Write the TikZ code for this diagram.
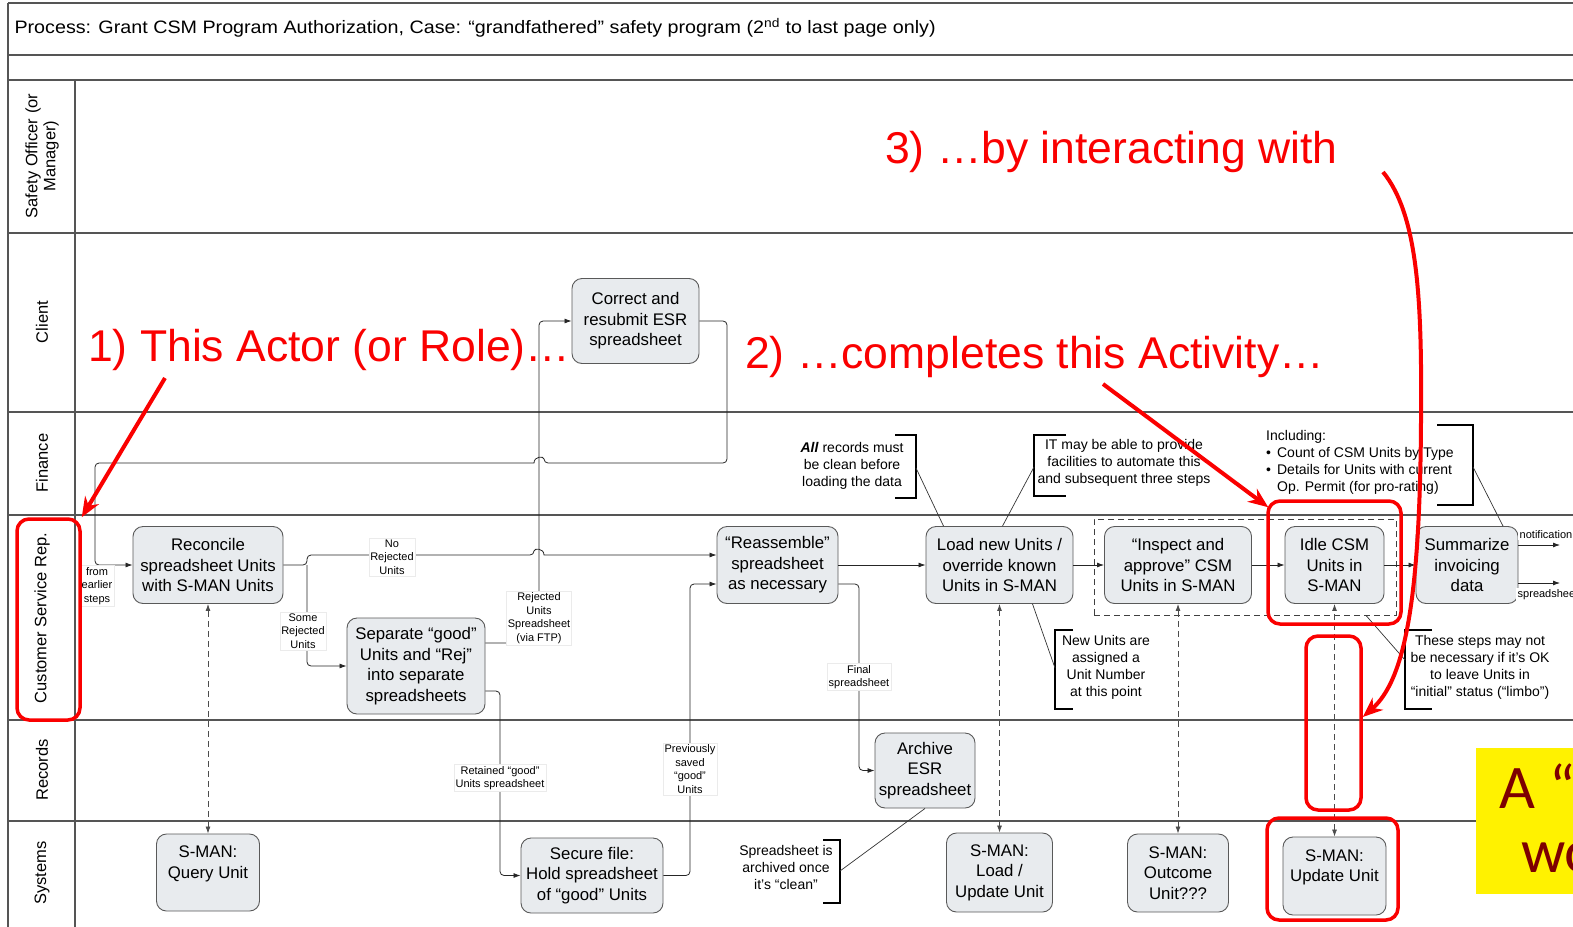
\documentclass[tikz,border=0pt]{standalone}
\usepackage{graphicx}
\usepackage{fontspec}
\setmainfont{Liberation Sans}
\newfontfamily\calloutfont{Carlito}
\usetikzlibrary{arrows.meta}
\definecolor{actfill}{RGB}{232,235,238}
\definecolor{laneline}{RGB}{85,85,85}
\definecolor{markred}{RGB}{250,0,0}
\definecolor{notered}{RGB}{125,0,0}

\begin{document}
\begin{tikzpicture}[x=1pt,y=-1pt,
  lane/.style={draw=laneline, line width=1.3pt},
  lanename/.style={rotate=90, align=center, font=\fontsize{16.5}{18}\selectfont},
  act/.style={draw=black!65, fill=actfill, line width=0.9pt, rounded corners=10pt, align=center, inner sep=1pt, font=\fontsize{16.8}{20.5}\selectfont},
  flow/.style={draw=black!85, line width=0.8pt, rounded corners=4pt, -{Latex[length=7pt,width=5pt]}},
  sys/.style={draw=black!70, line width=0.8pt, dash pattern=on 6pt off 4pt, {Latex[length=7pt,width=5pt]}-{Latex[length=7pt,width=5pt]}},
  tag/.style={fill=white, draw=black!8, align=center, inner sep=1.5pt, font=\fontsize{11}{13.7}\selectfont},
  note/.style={align=center, inner sep=2pt, font=\fontsize{14}{17}\selectfont},
  bracket/.style={draw=black, line width=1.5pt},
  pointer/.style={draw=black!80, line width=0.7pt},
  redbox/.style={draw=markred, line width=3.5pt, rounded corners=12pt},
  redarrow/.style={draw=markred, line width=4pt, -{Stealth[length=20pt,width=16pt]}},
  redtext/.style={text=markred, font=\fontsize{44.5}{50}\selectfont, anchor=base west, inner sep=0pt}
]
  \path[use as bounding box, clip] (0,0) rectangle (1573,926);
  %%%%% LANES %%%%%
  \draw[lane] (8,3) -- (1590,3);
  \draw[lane] (8,55) -- (1590,55);
  \draw[lane] (8,80) -- (1590,80);
  \draw[lane] (8,233) -- (1590,233);
  \draw[lane] (8,412) -- (1590,412);
  \draw[lane] (8,515) -- (1590,515);
  \draw[lane] (8,720) -- (1590,720);
  \draw[lane] (8,821) -- (1590,821);
  \draw[lane] (8,3) -- (8,940);
  \draw[lane] (75,80) -- (75,940);

  \node[anchor=west, font=\fontsize{18}{20}\selectfont] (title) at (11,28)
    {\scalebox{1.095}[1]{Process: Grant CSM Program Authorization, Case: “grandfathered” safety program (2\textsuperscript{nd} to last page only)}};

  \node[lanename] (safety) at (42,156) {Safety Officer (or\\Manager)};
  \node[lanename] (client) at (42,322) {Client};
  \node[lanename] (finance) at (42,463) {Finance};
  \node[lanename] (csr) at (42,618) {Customer Service Rep.};
  \node[lanename] (records) at (42,770) {Records};
  \node[lanename] (systems) at (42,873) {Systems};

  %%%%% ACTIVITIES %%%%%
  \node[act, minimum width=150pt, minimum height=77pt] (reconcile) at (208,565) {Reconcile\\spreadsheet Units\\with S-MAN Units};
  \node[act, minimum width=138pt, minimum height=96pt] (separate) at (416,666) {Separate “good”\\Units and “Rej”\\into separate\\spreadsheets};
  \node[act, minimum width=127pt, minimum height=85pt] (correct) at (635.5,321) {Correct and\\resubmit ESR\\spreadsheet};
  \node[act, minimum width=121pt, minimum height=77pt] (reassemble) at (777.5,565) {“Reassemble”\\spreadsheet\\as necessary};
  \node[act, minimum width=147pt, minimum height=77pt] (load) at (999.5,565) {Load new Units /\\override known\\Units in S-MAN};
  \node[act, minimum width=147pt, minimum height=77pt] (inspect) at (1178,565) {“Inspect and\\approve” CSM\\Units in S-MAN};
  \node[act, minimum width=99pt, minimum height=77pt] (idle) at (1334.5,565) {Idle CSM\\Units in\\S-MAN};
  \node[act, minimum width=102pt, minimum height=77pt] (summarize) at (1467,565) {Summarize\\invoicing\\data};
  \node[act, minimum width=100pt, minimum height=75pt] (archive) at (925,770.5) {Archive\\ESR\\spreadsheet};
  \node[act, minimum width=103pt, minimum height=77pt] (query) at (208,872.5) {S-MAN:\\Query Unit\\\mbox{}};
  \node[act, minimum width=142pt, minimum height=75pt] (secure) at (592,875.5) {Secure file:\\Hold spreadsheet\\of “good” Units};
  \node[act, minimum width=106pt, minimum height=79pt] (sload) at (999.5,872.5) {S-MAN:\\Load /\\Update Unit};
  \node[act, minimum width=101pt, minimum height=78pt] (outcome) at (1178,873) {S-MAN:\\Outcome\\Unit???};
  \node[act, minimum width=103pt, minimum height=78pt] (update) at (1334.5,876) {S-MAN:\\Update Unit\\\mbox{}};

  \node[draw=black!75, line width=0.9pt, dash pattern=on 6pt off 4pt, minimum width=302pt, minimum height=96pt] (group) at (1245,567) {};

  %%%%% FLOWS %%%%%
  \coordinate (split) at (307,565);
  \coordinate (notif) at (1560,545);
  \coordinate (sheet) at (1560,583);
  \draw[flow] (correct.east) -- (727,321) -- (727,463) -- (544,463) [sharp corners] .. controls (544,456) and (534,456) .. (534,463) [rounded corners=4pt] -- (95,463) -- (95,565) -- (reconcile.west);
  \draw[flow] (reconcile.east) -- (split) -- (307,555) -- (534,555) [sharp corners] .. controls (534,548) and (544,548) .. (544,555) [rounded corners=4pt] -- ([yshift=10pt]reassemble.west);
  \draw[flow] (split) -- (307,666) -- (separate.west);
  \draw[flow] ([yshift=23pt]separate.east) -- (539,643) -- (539,321) -- (correct.west);
  \draw[flow] ([yshift=-25pt]separate.east) -- (500,691) -- (500,875.5) -- (secure.west);
  \draw[flow] (secure.east) -- (690,875.5) -- (690,584) -- ([yshift=-19pt]reassemble.west);
  \draw[flow] (reassemble.east) -- (load.west);
  \draw[flow] ([yshift=-19pt]reassemble.east) -- (859,584) -- (859,770.5) -- (archive.west);
  \draw[flow] (load.east) -- (inspect.west);
  \draw[flow] (inspect.east) -- (idle.west);
  \draw[flow] (idle.east) -- (summarize.west);
  \draw[flow] ([yshift=20pt]summarize.east) -- (notif);
  \draw[flow] ([yshift=-18pt]summarize.east) -- (sheet);

  \draw[sys] (query.north) -- (reconcile.south);
  \draw[sys] (sload.north) -- (load.south);
  \draw[sys] (outcome.north) -- (inspect.south);
  \draw[sys] (update.north) -- (idle.south);

  \node[tag] (earlier) at (97,586) {from\\earlier\\steps};
  \node[tag] (norej) at (392,557) {No\\Rejected\\Units};
  \node[tag] (somerej) at (303,631) {Some\\Rejected\\Units};
  \node[tag] (rejsheet) at (539,618) {Rejected\\Units\\Spreadsheet\\(via FTP)};
  \node[tag] (retained) at (500,778) {Retained “good”\\Units spreadsheet};
  \node[tag] (saved) at (690,769) {Previously\\saved\\“good”\\Units};
  \node[tag] (final) at (859,677) {Final\\spreadsheet};
  \node[tag, draw=none, anchor=south west] (notiflbl) at (1518,540) {notification};
  \node[tag, draw=none, anchor=north west] (sheetlbl) at (1516,588) {spreadsheet};

  %%%%% NOTES %%%%%
  \node[note] (allrec) at (852,466) {\textbf{\textit{All}} records must\\be clean before\\loading the data};
  \draw[bracket] (895,435) -- (916,435) -- (916,498) -- (895,498);
  \draw[pointer] (916,468) -- ([xshift=-56pt]load.north);

  \node[note] (itnote) at (1124,463) {IT may be able to provide\\facilities to automate this\\and subsequent three steps};
  \draw[bracket] (1066,435) -- (1034,435) -- (1034,496) -- (1066,496);
  \draw[pointer] (1034,467) -- ([xshift=3pt]load.north);

  \node[note, align=left, anchor=north west] (incl) at (1264,428) {Including:\\\textbullet\hspace{6pt}Count of CSM Units by Type\\\textbullet\hspace{6pt}Details for Units with current\\\phantom{\textbullet}\hspace{6pt}Op. Permit (for pro-rating)};
  \draw[bracket] (1437,425) -- (1473,425) -- (1473,505) -- (1437,505);
  \draw[pointer] (1473,467) -- ([xshift=36pt]summarize.north);

  \node[note] (newunits) at (1106,667) {New Units are\\assigned a\\Unit Number\\at this point};
  \draw[bracket] (1073,630) -- (1055,630) -- (1055,709) -- (1073,709);
  \draw[pointer] ([xshift=33pt]load.south) -- (1055,668);

  \node[note] (limbo) at (1480,667) {These steps may not\\be necessary if it’s OK\\to leave Units in\\“initial” status (“limbo”)};
  \draw[bracket] (1432,630) -- (1405,630) -- (1405,709) -- (1432,709);
  \draw[pointer] ([xshift=121pt]group.south) -- (1405,660);

  \node[note] (archived) at (786,867) {Spreadsheet is\\archived once\\it’s “clean”};
  \draw[bracket] (823,840) -- (840,840) -- (840,903) -- (823,903);
  \draw[pointer] (840,871) -- (archive.south);

  %%%%% CALLOUTS %%%%%
  \node[fill=yellow, anchor=north west, minimum width=120pt, minimum height=146pt] (tipbox) at (1476,748) {};
  \node[anchor=base west, inner sep=0pt, text=notered, font=\calloutfont\fontsize{62}{62}\selectfont] (tipa) at (1499,808) {A “};
  \node[anchor=base west, inner sep=0pt, text=notered, font=\calloutfont\fontsize{62}{62}\selectfont] (tipb) at (1521,872) {wo};

  \node[redtext] (actor) at (88,361) {1) This Actor (or Role)…};
  \node[redtext] (activity) at (745,368) {2) …completes this Activity…};
  \node[redtext] (system) at (885,163) {3) …by interacting with};

  \node[redbox, minimum width=63pt, minimum height=201pt] (csrmark) at (48.5,619.5) {};
  \node[redbox, minimum width=133pt, minimum height=123pt] (idlemark) at (1334.5,562.5) {};
  \node[redbox, minimum width=55pt, minimum height=174pt] (linkmark) at (1333.5,723) {};
  \node[redbox, minimum width=131pt, minimum height=102pt] (updmark) at (1332.5,869) {};

  \coordinate (a1) at (165,378);
  \coordinate (a2) at (1103,384);
  \coordinate (a3) at (1383,172);
  \draw[redarrow] (a1) -- (csrmark.north east);
  \draw[redarrow] (a2) -- ([xshift=2pt,yshift=-8pt]idlemark.north west);
  \draw[redarrow] (a3) .. controls (1418,215) and (1422,300) .. (1421,420) .. controls (1420,600) and (1405,680) .. ([yshift=6pt]linkmark.east);
\end{tikzpicture}
\end{document}
